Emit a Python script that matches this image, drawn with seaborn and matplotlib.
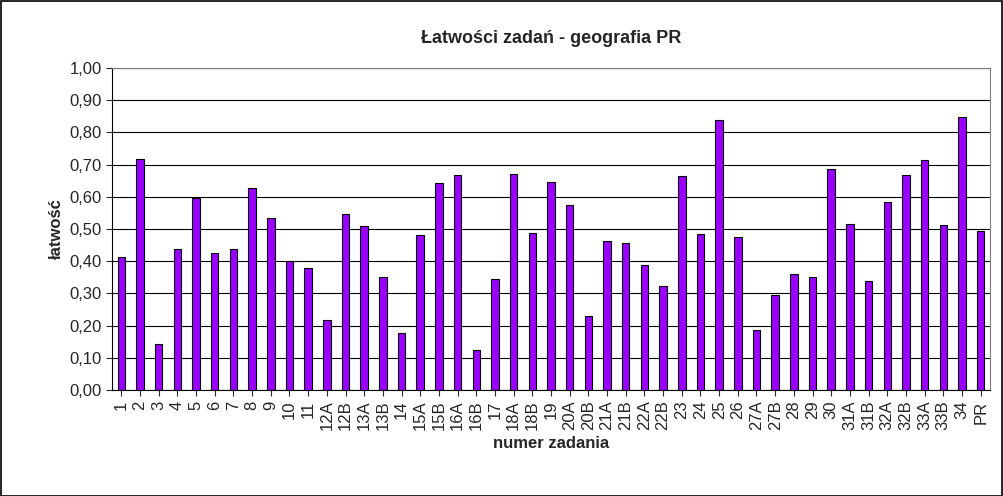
import matplotlib
matplotlib.use("Agg")
import matplotlib.pyplot as plt
import seaborn as sns
import pandas as pd
from matplotlib.ticker import FuncFormatter

categories = ["1","2","3","4","5","6","7","8","9","10","11","12A","12B","13A","13B","14","15A","15B","16A","16B","17","18A","18B","19","20A","20B","21A","21B","22A","22B","23","24","25","26","27A","27B","28","29","30","31A","31B","32A","32B","33A","33B","34","PR"]
values = [0.413,0.717,0.143,0.438,0.596,0.425,0.438,0.627,0.534,0.40,0.38,0.217,0.547,0.509,0.351,0.177,0.481,0.643,0.668,0.124,0.345,0.671,0.488,0.646,0.575,0.23,0.463,0.457,0.388,0.323,0.665,0.484,0.839,0.475,0.186,0.295,0.36,0.351,0.686,0.516,0.339,0.584,0.668,0.714,0.512,0.848,0.494]

df = pd.DataFrame({"cat": categories, "val": values})
sns.set_style("white")
plt.rcParams['font.family'] = ['Liberation Sans', 'DejaVu Sans']

fig = plt.figure(figsize=(10.04, 4.96), dpi=100)
ax = fig.add_axes([112/1004, 1-390/496, (990-112)/1004, (390-68)/496])
sns.barplot(data=df, x="cat", y="val", color="#9900FF", saturation=1, width=0.4,
            edgecolor="black", linewidth=0.8, ax=ax, zorder=3)
ax.set_ylim(0, 1.0)
ax.set_yticks([i/10 for i in range(11)])
ax.yaxis.set_major_formatter(FuncFormatter(lambda v, p: f"{v:.2f}".replace(".", ",")))
ax.grid(axis="y", color="#000000", linewidth=0.8, zorder=0)
ax.set_xlim(-0.5, len(categories)-0.5)
ax.tick_params(axis="x", rotation=90, labelsize=12, length=4, direction="out")
ax.tick_params(axis="y", labelsize=12, length=4, direction="out")
ax.tick_params(bottom=True, left=True)
for s in ax.spines.values():
    s.set_color("#808080")
ax.spines["left"].set_color("black")
ax.spines["bottom"].set_color("black")
ax.set_xlabel("numer zadania", fontsize=12, fontweight="bold")
ax.set_ylabel("łatwość", fontsize=12, fontweight="bold")
ax.set_title("Łatwości zadań - geografia PR", fontsize=13, fontweight="bold", pad=18)
fig.patches.append(plt.Rectangle((0.001, 0.001), 0.997, 0.997, transform=fig.transFigure,
                                 fill=False, edgecolor="black", linewidth=1.2))
fig.savefig("out.png", dpi=100)
